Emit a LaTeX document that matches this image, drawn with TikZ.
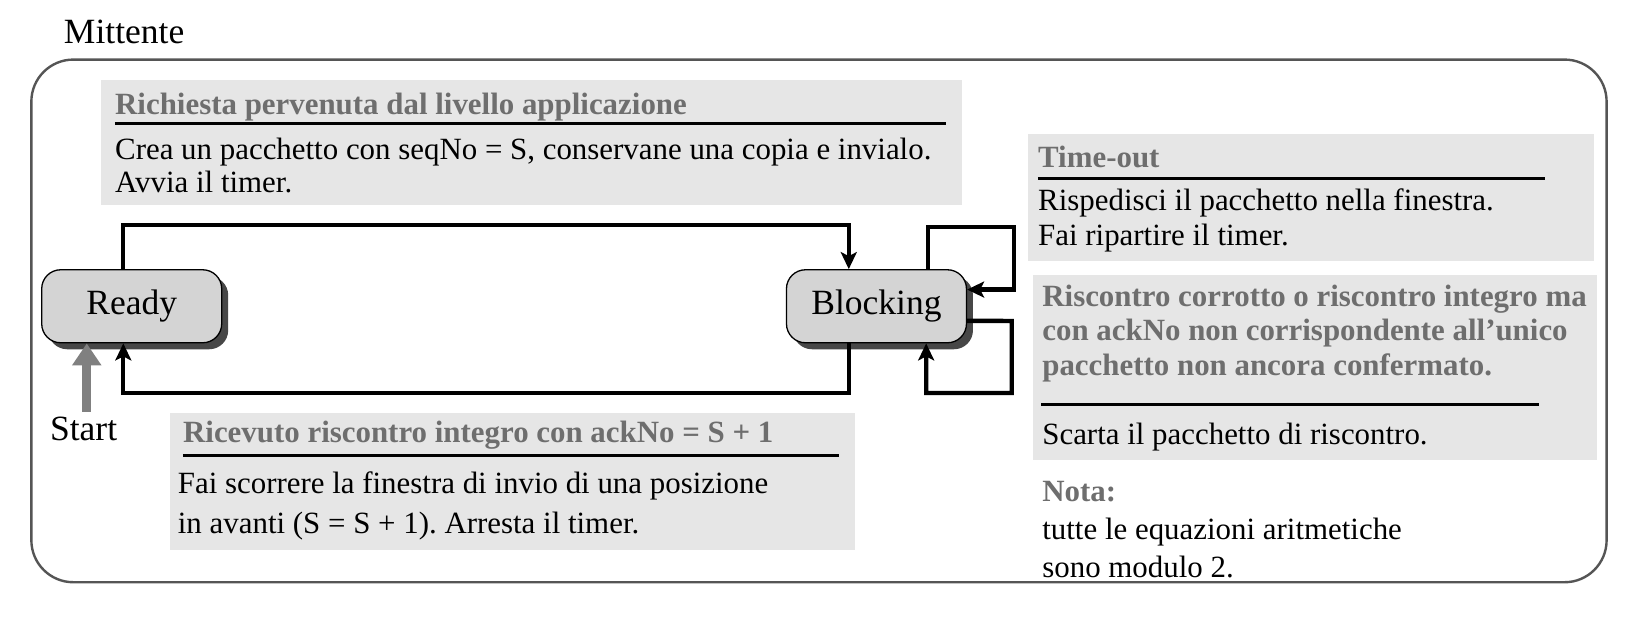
\documentclass[tikz,border=0pt]{standalone}
\usepackage{fontspec}
\setmainfont{Liberation Serif}
\usetikzlibrary{arrows.meta,shadows}
\definecolor{boxgray}{HTML}{E6E6E6}
\definecolor{nodegray}{HTML}{D4D4D4}
\definecolor{titlegray}{HTML}{6E6E6E}
\definecolor{framegray}{HTML}{555555}
\definecolor{startgray}{HTML}{808080}
\frenchspacing
\begin{document}
\begin{tikzpicture}[x=1.0453pt,y=-1.0453pt,
  txt/.style={anchor=base west,inner sep=0pt,font=\fontsize{30.9}{34}\selectfont},
  ttl/.style={txt,font=\fontsize{30.9}{34}\selectfont\bfseries,text=titlegray},
  big/.style={font=\fontsize{35.5}{38}\selectfont},
  rulel/.style={line width=3.4pt,black},
  bg/.style={fill=boxgray},
  state/.style={draw=black,line width=1.3pt,fill=nodegray,rounded corners=19pt,
    minimum width=180pt,minimum height=73pt,inner sep=0pt,big,
    drop shadow={shadow xshift=6.5pt,shadow yshift=-6.5pt,fill=black!72,opacity=1}},
  conn/.style={line width=4.3pt,black,-{Stealth[length=17pt,width=16pt,inset=4pt]}}
]
\useasboundingbox (0,0) rectangle (1568,593);
\fill[white] (0,0) rectangle (1568,593);
% outer frame
\node[txt,big] (mitt) at (61,42) {Mittente};
\draw[framegray,line width=2.4pt,rounded corners=42pt] (30,57) rectangle (1537,557);
% box 1
\fill[bg] (97,77) rectangle (920,196);
\node[ttl] (t1) at (110,110) {Richiesta pervenuta dal livello applicazione};
\draw[rulel] (110,118) -- (905,118);
\node[txt] (b1a) at (110,153) {Crea un pacchetto con seqNo = S, conservane una copia e invialo.};
\node[txt] (b1b) at (110,184) {Avvia il timer.};
% box 2
\fill[bg] (983,128) rectangle (1525,250);
\node[ttl] (t2) at (993,160) {Time-out};
\draw[rulel] (993,171) -- (1478,171);
\node[txt] (b2a) at (993,201) {Rispedisci il pacchetto nella finestra.};
\node[txt] (b2b) at (993,235) {Fai ripartire il timer.};
% box 3
\fill[bg] (988,263) rectangle (1528,440);
\node[ttl] (t3a) at (997,293) {Riscontro corrotto o riscontro integro ma};
\node[ttl] (t3b) at (997,326) {con ackNo non corrispondente all’unico};
\node[ttl] (t3c) at (997,359) {pacchetto non ancora confermato.};
\draw[rulel] (996,387) -- (1472,387);
\node[txt] (b3) at (997,425) {Scarta il pacchetto di riscontro.};
% nota
\node[ttl] (n1) at (997,480) {Nota:};
\node[txt] (n2) at (997,516) {tutte le equazioni aritmetiche};
\node[txt] (n3) at (997,552) {sono modulo 2.};
% box 4
\fill[bg] (163,395) rectangle (818,526);
\node[ttl] (t4) at (175,423) {Ricevuto riscontro integro con ackNo = S + 1};
\draw[rulel] (175,436) -- (803,436);
\node[txt] (b4a) at (170,472) {Fai scorrere la finestra di invio di una posizione};
\node[txt] (b4b) at (170,510) {in avanti (S = S + 1). Arresta il timer.};
% states
\node[state] (ready) at (126,293) {Ready};
\node[state] (block) at (838.5,293) {Blocking};
% start
\node[txt,big,anchor=base] (start) at (80,421) {Start};
\coordinate (s0) at (83,394);
\draw[startgray,line width=9pt,-{Triangle[length=22pt,width=28pt]}] (s0) -- (s0 |- ready.south);
% connectors
\coordinate (r1) at ([xshift=-8.4pt]ready.north);
\coordinate (k1) at ([xshift=-27.7pt]block.north);
\draw[conn] (r1) -- (r1 |- 0,215) -| (k1);
\coordinate (k2) at ([xshift=-27.7pt]block.south);
\coordinate (r2) at ([xshift=-8.4pt]ready.south);
\draw[conn] (k2) -- (k2 |- 0,376) -| (r2);
% self loops
\coordinate (k3) at ([xshift=51.7pt]block.north);
\coordinate (k4) at ([yshift=16.7pt]block.east);
\draw[conn] (k3) -- (k3 |- 0,217) -- (970,217) |- (k4);
\coordinate (k5) at ([yshift=-14.6pt]block.east);
\coordinate (k6) at ([xshift=49.7pt]block.south);
\draw[conn] (k5) -- (968,307) |- (k6 |- 0,376) -- (k6);
\end{tikzpicture}
\end{document}
